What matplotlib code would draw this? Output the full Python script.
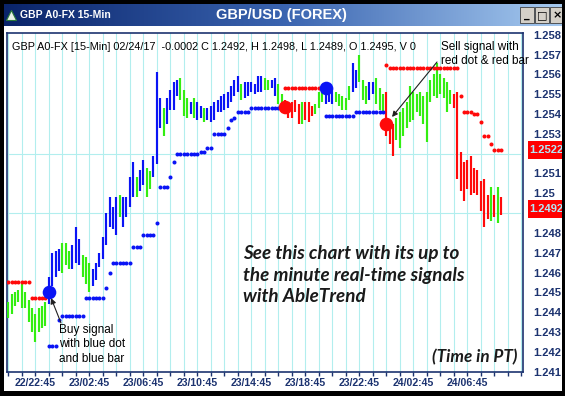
import matplotlib
matplotlib.use('Agg')
import matplotlib.pyplot as plt
import numpy as np
from matplotlib.patches import Rectangle
from matplotlib.colors import LinearSegmentedColormap

W, H = 565, 396

# ---------------- data ----------------
bar_high = [1.2445, 1.2449, 1.2450, 1.2451, 1.2454, 1.2450, 1.2446, 1.2442, 1.2439, 1.2442,
            1.2443, 1.2445, 1.2458, 1.2470, 1.2471, 1.2472, 1.2475, 1.2475, 1.2471, 1.2474,
            1.2483, 1.2477, 1.2469, 1.2468, 1.2465, 1.2462, 1.2465, 1.2470, 1.2478, 1.2490,
            1.2498, 1.2493, 1.2498, 1.2499, 1.2498, 1.2498, 1.2508, 1.2516, 1.2508, 1.2512,
            1.2517, 1.2513, 1.2511, 1.2519, 1.2561, 1.2548, 1.2543, 1.2548, 1.2552, 1.2556,
            1.2557, 1.2558, 1.2552, 1.2548, 1.2546, 1.2548, 1.2546, 1.2544, 1.2543, 1.2543,
            1.2544, 1.2546, 1.2547, 1.2549, 1.2550, 1.2551, 1.2554, 1.2557, 1.2559, 1.2555,
            1.2556, 1.2556, 1.2556, 1.2555, 1.2559, 1.2559, 1.2558, 1.2557, 1.2557, 1.2558,
            1.2555, 1.2550, 1.2547, 1.2546, 1.2546, 1.2547, 1.2545, 1.2546, 1.2546, 1.2546,
            1.2544, 1.2545, 1.2551, 1.2553, 1.2553, 1.2552, 1.2553, 1.2551, 1.2550, 1.2549,
            1.2548, 1.2554, 1.2566, 1.2562, 1.2570, 1.2557, 1.2554, 1.2556, 1.2556, 1.2558,
            1.2553, 1.2550, 1.2551, 1.2536, 1.2535, 1.2538, 1.2541, 1.2543, 1.2546, 1.2554,
            1.2551, 1.2550, 1.2551, 1.2549, 1.2551, 1.2557, 1.2560, 1.2566, 1.2560, 1.2558,
            1.2556, 1.2552, 1.2550, 1.2551, 1.2521, 1.2516, 1.2517, 1.2519, 1.2513, 1.2512,
            1.2506, 1.2507, 1.2499, 1.2503, 1.2499, 1.2503, 1.2498]
bar_low = [1.2437, 1.2439, 1.2443, 1.2445, 1.2442, 1.2442, 1.2435, 1.2430, 1.2425, 1.2430,
           1.2432, 1.2433, 1.2444, 1.2453, 1.2458, 1.2461, 1.2460, 1.2464, 1.2462, 1.2462,
           1.2465, 1.2464, 1.2458, 1.2454, 1.2450, 1.2453, 1.2456, 1.2463, 1.2467, 1.2474,
           1.2483, 1.2482, 1.2479, 1.2488, 1.2483, 1.2488, 1.2493, 1.2498, 1.2498, 1.2501,
           1.2504, 1.2498, 1.2502, 1.2508, 1.2515, 1.2533, 1.2529, 1.2535, 1.2542, 1.2542,
           1.2549, 1.2547, 1.2539, 1.2538, 1.2540, 1.2538, 1.2537, 1.2538, 1.2536, 1.2537,
           1.2536, 1.2537, 1.2541, 1.2541, 1.2542, 1.2543, 1.2546, 1.2549, 1.2551, 1.2547,
           1.2548, 1.2549, 1.2551, 1.2550, 1.2551, 1.2551, 1.2552, 1.2552, 1.2553, 1.2549,
           1.2545, 1.2542, 1.2540, 1.2538, 1.2538, 1.2541, 1.2535, 1.2535, 1.2537, 1.2536,
           1.2539, 1.2540, 1.2543, 1.2546, 1.2545, 1.2546, 1.2545, 1.2546, 1.2544, 1.2542,
           1.2542, 1.2547, 1.2551, 1.2553, 1.2556, 1.2547, 1.2545, 1.2547, 1.2550, 1.2545,
           1.2542, 1.2540, 1.2529, 1.2525, 1.2519, 1.2527, 1.2523, 1.2529, 1.2533, 1.2536,
           1.2537, 1.2541, 1.2539, 1.2535, 1.2526, 1.2546, 1.2549, 1.2548, 1.2550, 1.2548,
           1.2541, 1.2545, 1.2543, 1.2507, 1.2501, 1.2496, 1.2502, 1.2499, 1.2500, 1.2499,
           1.2491, 1.2483, 1.2487, 1.2486, 1.2488, 1.2485, 1.2489]
# B = uptrend (blue), G = neutral (green), R = downtrend (red)
bar_trend = ("GGGGGGGGGGGG" "BBBB" "GGG" "BBB" "GGG" "BBBBBBBB" "G" "BBBB" "G" "BB" "GG"
             "BBB" "G" "BBBB" "GGG" "B" "G" "BB" "G" "BBBBBBBBBB" "G" "BBBBBB" "GG" "BB"
             "GG" "RRRRR" "G" "RRR" "GGG" "BBB" "GGGGG" "BB" "GGG" "BB" "GGG" "RRR"
             "GGGGGGGGGGGGGGGGG" "RRRRRRRRRRR" "G" "R" "G" "R")

# stop levels as runs (first bar, last bar, price)
blue_stop_runs = [(12, 14, 1.2423), (15, 15, 1.2436), (16, 22, 1.2438), (23, 28, 1.2447),
                  (29, 29, 1.2452), (30, 30, 1.2460), (31, 36, 1.2465), (37, 39, 1.2473),
                  (40, 43, 1.2479), (44, 44, 1.2485), (45, 47, 1.2503), (48, 48, 1.2508),
                  (49, 49, 1.2516), (50, 56, 1.2520), (57, 58, 1.2521), (59, 60, 1.2523),
                  (61, 64, 1.2530), (65, 65, 1.2533), (66, 66, 1.2537), (67, 67, 1.2538),
                  (68, 71, 1.2541), (72, 81, 1.2543), (94, 102, 1.2539), (103, 111, 1.2541)]
red_stop_runs = [(0, 6, 1.2455), (7, 11, 1.2447), (82, 93, 1.2553), (112, 112, 1.2565),
                 (113, 133, 1.2563), (134, 134, 1.2549), (135, 137, 1.2541), (138, 139, 1.2540),
                 (140, 140, 1.2536), (141, 142, 1.2529), (143, 143, 1.2525), (144, 146, 1.2522)]

buy_signals = [(12, 1.2450), (94, 1.2553)]
sell_signals = [(82, 1.25435), (112, 1.2535)]

time_labels = ["22/22:45", "23/02:45", "23/06:45", "23/10:45", "23/14:45",
               "23/18:45", "23/22:45", "24/02:45", "24/06:45"]
label_bars = [8, 24, 40, 56, 72, 88, 104, 120, 136]
price_ticks = [1.241, 1.242, 1.243, 1.244, 1.245, 1.246, 1.247, 1.248,
               1.250, 1.251, 1.253, 1.254, 1.255, 1.256, 1.257, 1.258]
price_tick_labels = ["1.241", "1.242", "1.243", "1.244", "1.245", "1.246", "1.247", "1.248",
                     "1.25", "1.251", "1.253", "1.254", "1.255", "1.256", "1.257", "1.258"]
last_stop = 1.2522
last_close = 1.2492

header = "GBP A0-FX [15-Min] 02/24/17  -0.0002 C 1.2492, H 1.2498, L 1.2489, O 1.2495, V 0"

# ---------------- styling ----------------
NAVY = '#1C3370'
COL = {'B': '#0A14F5', 'G': '#33EE11', 'R': '#FF0A0A'}
FONT = 'Liberation Sans'

fig = plt.figure(figsize=(W / 100, H / 100), dpi=100)
fig.patch.set_facecolor('white')


def fx(px):
    return px / W


def fy(py):
    return 1 - py / H


# title bar
tb = fig.add_axes([fx(4), fy(26), fx(562) - fx(4), fy(4) - fy(26)])
cmap = LinearSegmentedColormap.from_list('tb', ['#0A246A', '#3A64B0', '#A6CAF0'])
tb.imshow(np.linspace(0, 1, 256)[None, :], aspect='auto', cmap=cmap, extent=[0, 1, 0, 1])
tb.set_xlim(0, 1)
tb.set_ylim(0, 1)
tb.axis('off')
# window buttons
for bx, sym in [(0.925, '_'), (0.952, '□'), (0.979, '×')]:
    tb.add_patch(Rectangle((bx, 0.15), 0.024, 0.7, facecolor='#D4D0C8',
                           edgecolor='#404040', lw=0.6, transform=tb.transAxes))
    tb.text(bx + 0.012, 0.5, sym, ha='center', va='center', fontsize=8,
            fontweight='bold', color='black', family='DejaVu Sans', transform=tb.transAxes)
# small icon
tb.plot([0.012], [0.5], marker='^', ms=7, color='#E8F0E8', mec='#2A7A3A', mew=0.8,
        transform=tb.transAxes)

fig.text(fx(20), fy(15.5), "GBP A0-FX 15-Min", color='white', fontsize=7.5,
         fontweight='bold', family=FONT, ha='left', va='center')
fig.text(fx(281), fy(15.5), "GBP/USD (FOREX)", color='white', fontsize=10.5,
         fontweight='bold', family=FONT, ha='center', va='center')

# main axes
ax = fig.add_axes([fx(7), fy(372), fx(523) - fx(7), fy(33) - fy(372)])
ax.set_xlim(-0.385, 152.5)
ax.set_ylim(1.24098, 1.25809)

# grid
ax.set_xticks(np.arange(0, 153, 4))
ax.set_xticklabels([time_labels[label_bars.index(b)] if b in label_bars else ''
                    for b in range(0, 153, 4)])
ax.set_yticks(np.arange(1.241, 1.2585, 0.001), minor=True)
ax.set_yticks(price_ticks)
ax.set_yticklabels(price_tick_labels)
ax.grid(True, which='major', axis='x', color='#B2EEEE', lw=0.8)
ax.grid(True, which='minor', axis='y', color='#B2EEEE', lw=0.8)
ax.set_axisbelow(True)
ax.yaxis.tick_right()
ax.tick_params(axis='y', which='both', length=0, pad=7.3, labelsize=8, labelcolor=NAVY)
ax.tick_params(axis='x', length=3, width=1, color=NAVY, pad=1.5, labelsize=7.6,
               labelcolor=NAVY)
for lab in ax.get_xticklabels() + ax.get_yticklabels():
    lab.set_fontweight('bold')
    lab.set_family(FONT)
for sp in ax.spines.values():
    sp.set_color(NAVY)
    sp.set_linewidth(1.2)

# bars
idx = np.arange(len(bar_high))
colors = [COL[c] for c in bar_trend]
ax.vlines(idx, bar_low, bar_high, colors=colors, lw=1.55, zorder=3)


def runs_to_series(runs, n):
    s = np.full(n, np.nan)
    for a, b, v in runs:
        s[a:b + 1] = v
    return s


n = len(bar_high)
bs = runs_to_series(blue_stop_runs, n)
rs = runs_to_series(red_stop_runs, n)
ax.plot(idx, bs, ls='none', marker='o', ms=2.9, color='#0A14F5', mec='none', zorder=4)
ax.plot(idx, rs, ls='none', marker='o', ms=2.9, color='#FF0A0A', mec='none', zorder=4)

for b, p in buy_signals:
    ax.plot([b], [p], marker='o', ms=9.8, color='#0A14F5', mec='none', zorder=5)
for b, p in sell_signals:
    ax.plot([b], [p], marker='o', ms=9.8, color='#FF0A0A', mec='none', zorder=5)

# arrows
ax.annotate('', xy=buy_signals[0], xytext=(61, H - 323), textcoords='figure pixels',
            arrowprops=dict(arrowstyle='-|>', color='#202020', lw=0.8, mutation_scale=8,
                            shrinkA=0, shrinkB=4.5), zorder=6)
ax.annotate('', xy=sell_signals[1], xytext=(437, H - 62), textcoords='figure pixels',
            arrowprops=dict(arrowstyle='-|>', color='#202020', lw=0.8, mutation_scale=8,
                            shrinkA=0, shrinkB=6.5), zorder=6)

# texts
fig.text(fx(12), fy(47), header, fontsize=7.85, family=FONT, color='black',
         ha='left', va='center')
for i, line in enumerate(["Sell signal with", "red dot & red bar"]):
    fig.text(fx(441), fy(47 + 14 * i), line, fontsize=8.5, family=FONT, color='black',
             ha='left', va='center')
for i, line in enumerate(["Buy signal", "with blue dot", "and blue bar"]):
    fig.text(fx(59), fy(329.5 + 14.7 * i), line, fontsize=8.5, family=FONT, color='black',
             ha='left', va='center')
for i, line in enumerate(["See this chart with its up to", "the minute real-time signals",
                          "with AbleTrend"]):
    fig.text(fx(243), fy(253 + 22 * i), line, fontsize=13.6, family='Lato', fontweight='bold',
             style='italic', color='#1A1A1A', ha='left', va='center')
fig.text(fx(432), fy(357), "(Time in PT)", fontsize=12.3, family='Lato', fontweight='bold',
         style='italic', color='#1A1A1A', ha='left', va='center')

# last-value boxes
for val, py in [(last_stop, 150), (last_close, 209)]:
    fig.patches.append(Rectangle((fx(528), fy(py + 9)), fx(565) - fx(528), 18 / H,
                                 transform=fig.transFigure, facecolor='#FF0000',
                                 edgecolor='none', zorder=2))
    fig.text(fx(546.5), fy(py), f"{val:.4f}", fontsize=8, fontweight='bold', family=FONT,
             color='#B4E8F8', ha='center', va='center', zorder=3)

# black window border
for (x0, y0, w, h) in [(0, 0, 4, H), (0, 0, W, 4), (W - 3, 0, 3, H), (0, H - 5, W, 5)]:
    fig.patches.append(Rectangle((x0 / W, 1 - (y0 + h) / H), w / W, h / H,
                                 transform=fig.transFigure, facecolor='black',
                                 edgecolor='none', zorder=10))

fig.savefig('out.png', dpi=100)
